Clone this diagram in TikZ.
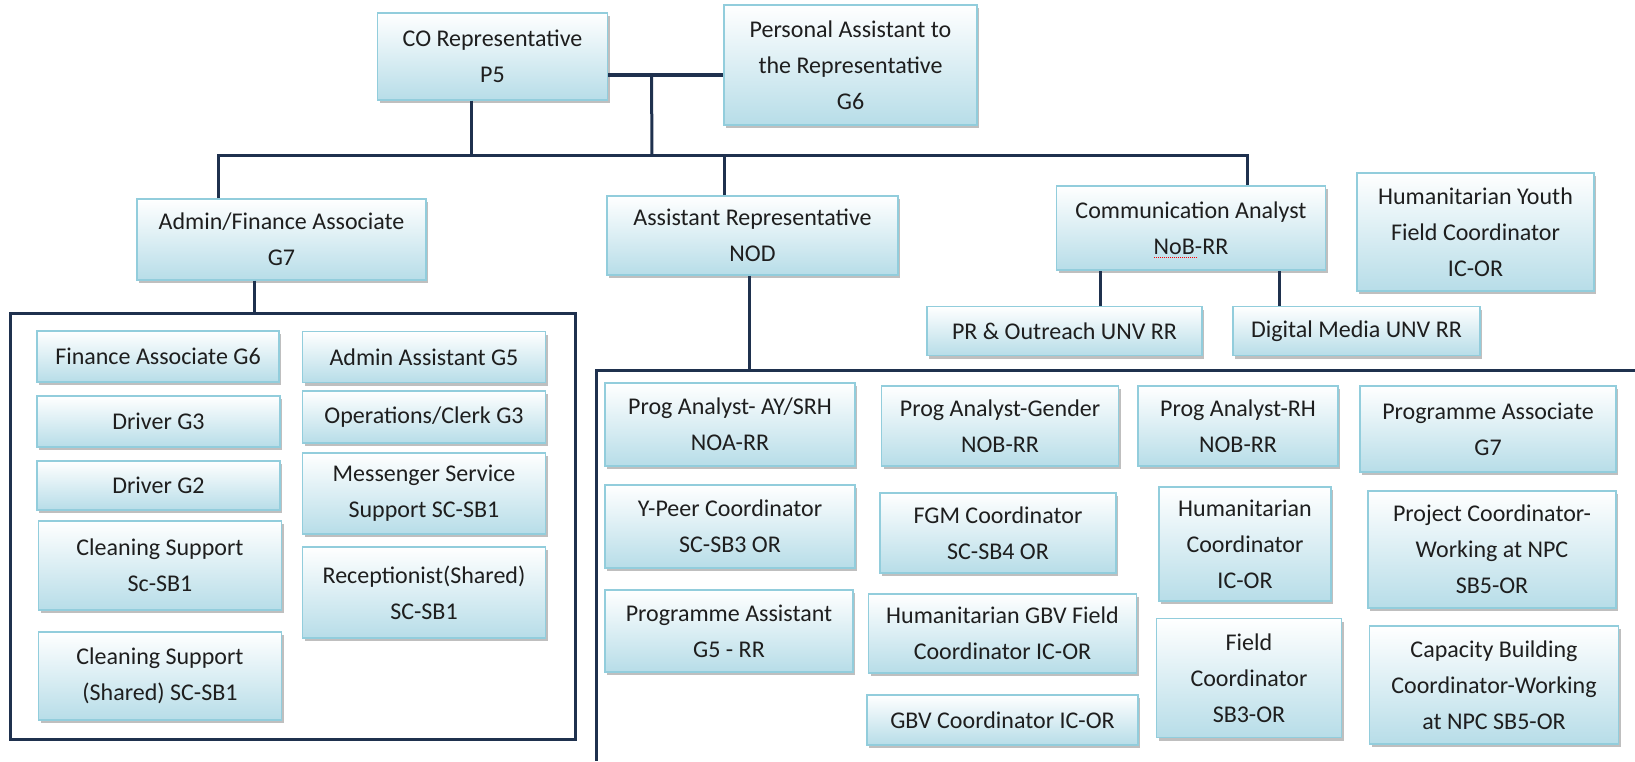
\documentclass[tikz,border=0pt]{standalone}
\usepackage{fontspec}
\setmainfont{Carlito}
\usetikzlibrary{shadows}
\definecolor{boxblue}{RGB}{183,221,232}
\definecolor{boxedge}{RGB}{146,205,220}
\definecolor{linknavy}{RGB}{31,49,78}
\definecolor{txtgray}{RGB}{30,30,30}

\begin{document}
\begin{tikzpicture}[
    x=1pt, y=-1pt,
    box/.style={draw=boxedge, line width=1.2pt, top color=white, bottom color=boxblue, inner sep=0pt, align=center, text=txtgray, font=\fontsize{24}{36}\selectfont, drop shadow={shadow xshift=2pt, shadow yshift=-3pt, fill=black!50, opacity=0.5}},
    link/.style={draw=linknavy, line width=3pt},
    frame/.style={draw=linknavy, line width=3pt, inner sep=0pt, outer sep=0pt}
]
    \useasboundingbox (0,0) rectangle (1635,761);

    % Representative and assistant
    \node[box, minimum width=230, minimum height=87] (corep) at (492.5,56.5) {CO Representative\\P5};
    \node[box, minimum width=253, minimum height=120] (persasst) at (850.5,65) {Personal Assistant to\\the Representative\\G6};

    % Second level
    \node[box, minimum width=289, minimum height=81] (adminfin) at (281.5,239.5) {Admin/Finance Associate\\G7};
    \node[box, minimum width=291, minimum height=79] (asstrep) at (752.5,235.5) {Assistant Representative\\NOD};
    \node[box, minimum width=269, minimum height=84] (comms) at (1191,228) {Communication Analyst\\NoB-RR};
    \node[box, minimum width=237, minimum height=118] (humyouth) at (1475.5,232) {Humanitarian Youth\\Field Coordinator\\IC-OR};

    % Communication team
    \node[box, minimum width=275, minimum height=49] (prout) at (1064.5,331) {PR \& Outreach UNV RR};
    \node[box, minimum width=247, minimum height=49] (digmedia) at (1356.5,331) {Digital Media UNV RR};

    % Admin/finance team
    \node[frame, minimum width=565, minimum height=425.5] (adminteam) at (292.5,526.25) {};
    \node[box, minimum width=242, minimum height=51] (finassoc) at (158,356.5) {Finance Associate G6};
    \node[box, minimum width=243, minimum height=51] (driver3) at (158.5,421.5) {Driver G3};
    \node[box, minimum width=243, minimum height=49] (driver2) at (158.5,485.5) {Driver G2};
    \node[box, minimum width=243, minimum height=89] (clean) at (160,565.5) {Cleaning Support\\Sc-SB1};
    \node[box, minimum width=243, minimum height=88] (cleanshared) at (160,676) {Cleaning Support\\(Shared) SC-SB1};
    \node[box, minimum width=243, minimum height=51] (adminasst) at (424,357) {Admin Assistant G5};
    \node[box, minimum width=243, minimum height=52] (opsclerk) at (424,417) {Operations/Clerk G3};
    \node[box, minimum width=243, minimum height=81] (messenger) at (424,493.5) {Messenger Service\\Support SC-SB1};
    \node[box, minimum width=243, minimum height=91] (reception) at (424,592.5) {Receptionist(Shared)\\SC-SB1};

    % Programme team
    \coordinate (progteam) at (596.5,370);
    \draw[link] (1635,370) -| (596.5,761);
    \node[box, minimum width=250, minimum height=83] (paaysrh) at (730,424.5) {Prog Analyst- AY/SRH\\NOA-RR};
    \node[box, minimum width=237, minimum height=80] (pagender) at (1000,426) {Prog Analyst-Gender\\NOB-RR};
    \node[box, minimum width=200, minimum height=80] (parh) at (1238,426) {Prog Analyst-RH\\NOB-RR};
    \node[box, minimum width=256, minimum height=86] (progassoc) at (1488,429) {Programme Associate\\G7};
    \node[box, minimum width=250, minimum height=83] (ypeer) at (730,526.5) {Y-Peer Coordinator\\SC-SB3 OR};
    \node[box, minimum width=236, minimum height=80] (fgm) at (998,533) {FGM Coordinator\\SC-SB4 OR};
    \node[box, minimum width=172, minimum height=114] (humcoord) at (1245,544) {Humanitarian\\Coordinator\\IC-OR};
    \node[box, minimum width=248, minimum height=117] (projcoord) at (1492,549.5) {Project Coordinator-\\Working at NPC\\SB5-OR};
    \node[box, minimum width=248, minimum height=82] (progasst) at (729,631) {Programme Assistant\\G5 - RR};
    \node[box, minimum width=268, minimum height=79] (humgbv) at (1002.5,633.5) {Humanitarian GBV Field\\Coordinator IC-OR};
    \node[box, minimum width=185, minimum height=119] (fieldcoord) at (1249,678) {Field\\Coordinator\\SB3-OR};
    \node[box, minimum width=249, minimum height=118] (capbuild) at (1494,685) {Capacity Building\\Coordinator-Working\\at NPC SB5-OR};
    \node[box, minimum width=271, minimum height=50] (gbvcoord) at (1002.5,720) {GBV Coordinator IC-OR};

    % Connectors
    \coordinate (bus) at (652,155.5);
    \coordinate (pajunc) at (651.5,75);
    \draw[link, line width=4.5pt] (corep.east |- pajunc) -- (persasst.west |- pajunc);
    \draw[link] (pajunc) -- (bus);
    \draw[link] ([xshift=-21pt]corep.south) |- (bus);
    \draw[link] ([xshift=-63pt]adminfin.north) |- (bus) -| ([xshift=56pt]comms.north);
    \draw[link] ([xshift=-28.5pt]asstrep.north) |- (bus);
    \draw[link] ([xshift=-27pt]adminfin.south) |- (adminteam.north);
    \draw[link] ([xshift=-3.5pt]asstrep.south) |- (progteam);
    \draw[link] (prout.north) ++(35.5,0) -- ([xshift=-91pt]comms.south);
    \draw[link] (digmedia.north) ++(-77.5,0) -- ([xshift=88pt]comms.south);

    % Spell-check mark
    \draw[red, densely dotted, line width=1pt] ([xshift=-37pt, yshift=13pt]comms.south) -- ++(44,0);
\end{tikzpicture}
\end{document}
